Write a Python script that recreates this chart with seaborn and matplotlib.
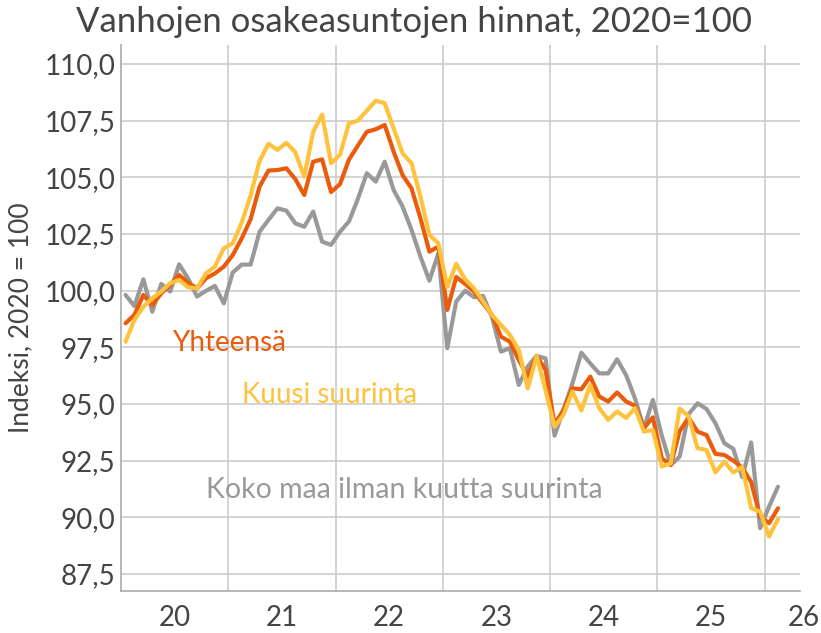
#### Vanhojen osakeasuntojen hinnat, 2020=100
# Monthly price index of old dwellings in housing companies, three regional series.
# Saves out.png

#%% Import useful packages
import numpy as np
import pandas as pd
import matplotlib
matplotlib.use("Agg")
import matplotlib.pyplot as plt
import seaborn as sns
from matplotlib.ticker import FuncFormatter, FixedLocator

#%% Data, monthly from Jan 2020
start_month = "2020-01"

yhteensa = [98.56, 98.93, 99.81, 99.37, 99.88, 100.25, 100.69, 100.35, 100.10, 100.54, 100.76, 101.06,
            101.57, 102.30, 103.15, 104.59, 105.30, 105.32, 105.40, 104.92, 104.22, 105.69, 105.79, 104.35,
            104.70, 105.78, 106.40, 107.01, 107.12, 107.31, 106.13, 105.10, 104.51, 103.19, 101.72, 101.94,
            99.15, 100.60, 100.30, 99.96, 99.44, 98.93, 97.97, 97.75, 96.94, 96.21, 97.12, 96.50,
            94.10, 94.74, 95.69, 95.65, 96.21, 95.33, 95.11, 95.51, 95.11, 94.92, 93.93, 94.41,
            92.60, 92.31, 93.80, 94.40, 93.78, 93.63, 92.80, 92.75, 92.50, 92.20, 91.55, 90.03, 89.74, 90.40]

kuusi_suurinta = [97.75, 98.71, 99.29, 99.66, 99.96, 100.33, 100.47, 100.15, 100.10, 100.76, 101.06, 101.87,
                  102.09, 103.00, 104.20, 105.72, 106.48, 106.21, 106.52, 106.10, 105.03, 107.01, 107.77, 105.62,
                  105.99, 107.38, 107.50, 107.94, 108.38, 108.27, 107.16, 106.06, 105.62, 104.15, 102.46, 102.09,
                  100.15, 101.18, 100.50, 100.10, 99.52, 98.93, 98.49, 98.05, 97.38, 95.69, 97.12, 95.60,
                  94.00, 94.52, 95.55, 94.71, 95.84, 94.82, 94.30, 94.67, 94.38, 94.82, 93.78, 93.85,
                  92.24, 92.38, 94.80, 94.45, 93.05, 92.97, 91.98, 92.46, 91.98, 92.22, 90.40, 90.25, 89.15, 89.92]

koko_maa_ilman = [99.81, 99.32, 100.50, 99.07, 100.30, 99.96, 101.16, 100.54, 99.74, 99.99, 100.21, 99.44,
                  100.80, 101.15, 101.15, 102.60, 103.12, 103.63, 103.53, 102.97, 102.82, 103.49, 102.16, 102.02,
                  102.60, 103.05, 104.05, 105.18, 104.81, 105.69, 104.44, 103.71, 102.68, 101.50, 100.44, 101.65,
                  97.46, 99.52, 100.00, 99.71, 99.77, 98.85, 97.31, 97.46, 95.84, 96.65, 97.12, 97.01,
                  93.60, 94.74, 95.91, 97.26, 96.79, 96.35, 96.35, 96.97, 96.28, 95.25, 93.93, 95.18,
                  93.60, 92.30, 92.68, 94.55, 95.03, 94.78, 94.15, 93.27, 93.02, 91.77, 93.30, 89.52, 90.47, 91.35]

series_names = ["Koko maa ilman kuutta suurinta", "Yhteensä", "Kuusi suurinta"]
colors = ["#999999", "#EA5B0C", "#FFC23D"]

year_labels = ["20", "21", "22", "23", "24", "25", "26"]
y_ticks = [87.5, 90.0, 92.5, 95.0, 97.5, 100.0, 102.5, 105.0, 107.5, 110.0]

title = "Vanhojen osakeasuntojen hinnat, 2020=100"
ylabel = "Indeksi, 2020 = 100"

#%% Build long-form table, months placed in the middle of each month
months = pd.date_range(start_month, periods=len(yhteensa), freq="MS")
x = months.year + (months.month - 0.5) / 12

df = pd.concat([
    pd.DataFrame({"x": x, "value": koko_maa_ilman, "series": series_names[0]}),
    pd.DataFrame({"x": x, "value": yhteensa, "series": series_names[1]}),
    pd.DataFrame({"x": x, "value": kuusi_suurinta, "series": series_names[2]}),
])

#%% Figure appearance
sns.set_style("white")
plt.rcParams['font.family'] = ['Lato', 'DejaVu Sans']
text_color = "#444444"

fig = plt.figure(figsize=(8.21, 6.33), dpi=100)
ax = fig.add_axes([0.1474, 0.0664, 0.827, 0.8626])

sns.lineplot(data=df, x="x", y="value", hue="series", hue_order=series_names,
             palette=colors, linewidth=3, legend=False, ax=ax)

first_year = months.year[0]
ax.set_xlim(first_year, first_year + 6.33)
ax.set_ylim(86.75, 110.84)

# year boundaries as grid, labels in the middle of the year
ax.xaxis.set_minor_locator(FixedLocator(np.arange(first_year + 1, first_year + 7)))
ax.set_xticks(np.arange(first_year, first_year + 6) + 0.5)
ax.set_xticklabels(year_labels[:-1])
ax.set_yticks(y_ticks)
ax.yaxis.set_major_formatter(FuncFormatter(lambda v, p: f"{v:.1f}".replace(".", ",")))

ax.grid(False)
ax.grid(True, which="minor", axis="x", color="#cccccc", linewidth=1.2)
ax.grid(True, which="major", axis="y", color="#cccccc", linewidth=1.2)
ax.set_axisbelow(True)

ax.tick_params(axis="both", which="both", length=0, labelsize=20, colors=text_color)
ax.tick_params(axis="x", pad=10)
ax.tick_params(axis="y", pad=4)

# last year label sits at the right edge
ax.text(first_year + 6.37, -0.025, year_labels[-1], transform=ax.get_xaxis_transform(),
        ha="center", va="top", fontsize=20, color=text_color, clip_on=False)

for side in ["top", "right"]:
    ax.spines[side].set_visible(False)
for side in ["left", "bottom"]:
    ax.spines[side].set_color("#aaaaaa")
    ax.spines[side].set_linewidth(1.2)

ax.set_xlabel("")
ax.set_ylabel(ylabel, fontsize=19, color=text_color, labelpad=8)
fig.text(0.504, 0.965, title, ha="center", va="center", fontsize=25, color=text_color)

# series labels written straight into the plot
ax.text(2020.48, 97.7, series_names[1], color=colors[1], fontsize=20, va="center")
ax.text(2021.13, 95.4, series_names[2], color=colors[2], fontsize=20, va="center")
ax.text(2020.79, 91.2, series_names[0], color=colors[0], fontsize=20.5, va="center")

plt.savefig("out.png", dpi=100)
